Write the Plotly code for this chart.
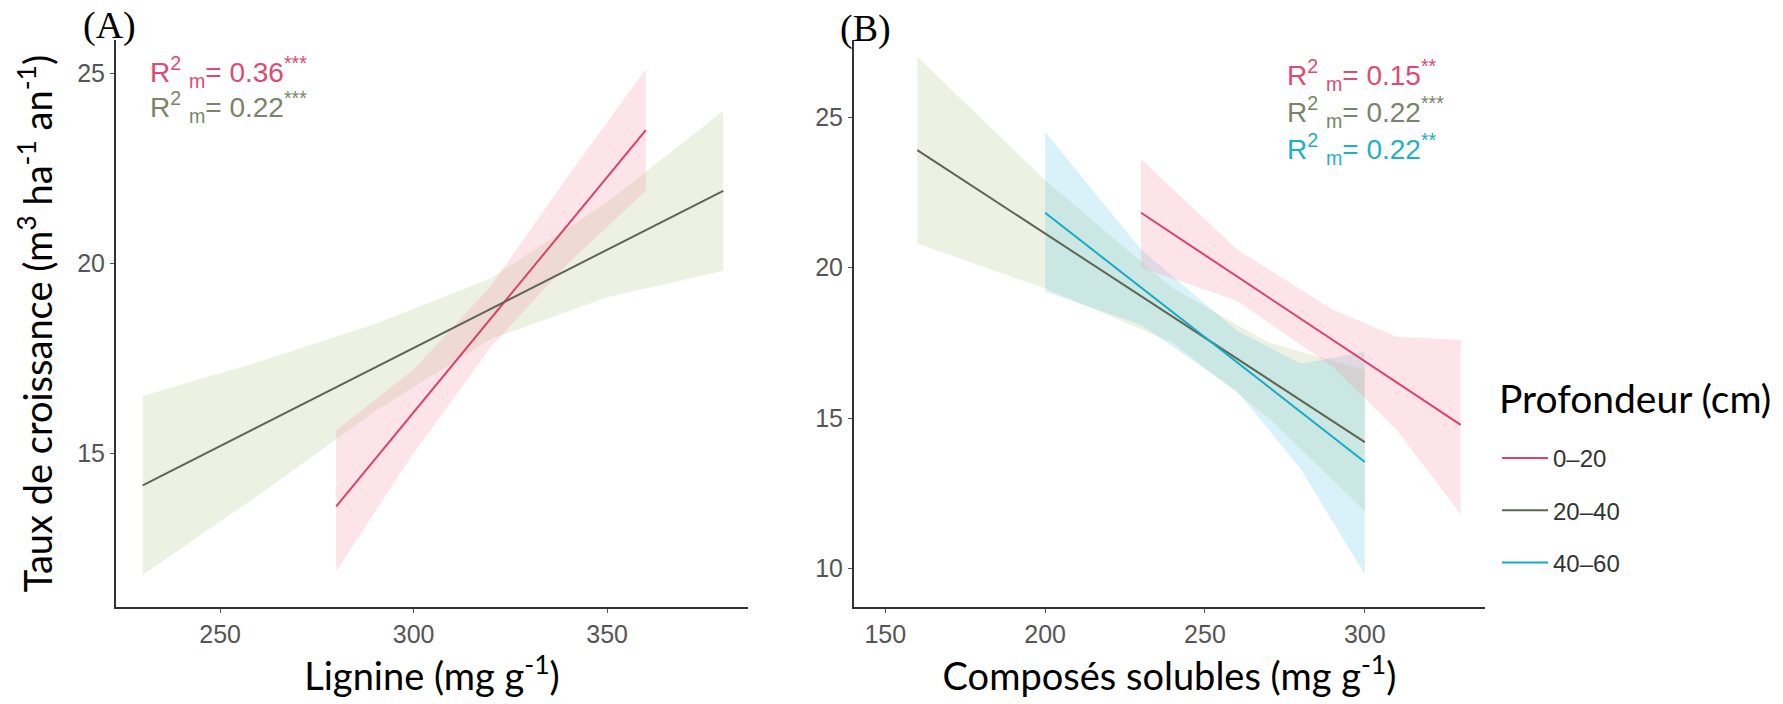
import plotly.graph_objects as go

W, H = 1783, 704

# ---------------- data ----------------
depths = ["0–20", "20–40", "40–60"]
line_colors = {"0–20": "#dc416b", "20–40": "#5d6655", "40–60": "#17aac8"}
band_colors = {"0–20": "rgba(244,150,170,0.26)", "20–40": "rgba(185,205,150,0.28)", "40–60": "rgba(120,205,230,0.28)"}
text_colors = {"0–20": "#e04a70", "20–40": "#7a8468", "40–60": "#1eb0c6"}

# Panel A : Lignine
A_lines = {
    "0–20": {"x": [280, 360], "y": [13.6, 23.5]},
    "20–40": {"x": [230, 380], "y": [14.15, 21.9]},
}
A_bands = {
    "0–20": {"x": [280, 300, 320, 340, 360],
             "lo": [11.9, 15.0, 17.8, 20.0, 21.9],
             "hi": [15.6, 17.2, 19.4, 22.3, 25.1]},
    "20–40": {"x": [230, 260, 290, 320, 350, 380],
              "lo": [11.8, 13.9, 16.1, 18.0, 19.1, 19.8],
              "hi": [16.5, 17.4, 18.4, 19.6, 21.6, 24.0]},
}
A_r2 = {"0–20": "0.36", "20–40": "0.22"}
A_stars = {"0–20": "***", "20–40": "***"}

# Panel B : Composés solubles
B_lines = {
    "0–20": {"x": [230, 330], "y": [21.82, 14.77]},
    "20–40": {"x": [160, 300], "y": [23.9, 14.2]},
    "40–60": {"x": [200, 300], "y": [21.82, 13.54]},
}
B_bands = {
    "0–20": {"x": [230, 260, 290, 310, 330],
             "lo": [20.0, 18.9, 16.7, 14.6, 11.8],
             "hi": [23.6, 20.6, 18.6, 17.7, 17.6]},
    "20–40": {"x": [160, 200, 240, 270, 300],
              "lo": [20.8, 19.3, 17.5, 15.0, 11.9],
              "hi": [27.0, 22.9, 19.3, 17.5, 16.6]},
    "40–60": {"x": [200, 230, 260, 280, 300],
              "lo": [19.2, 18.1, 15.9, 13.3, 9.8],
              "hi": [24.5, 20.6, 17.9, 16.8, 17.2]},
}
B_r2 = {"0–20": "0.15", "20–40": "0.22", "40–60": "0.22"}
B_stars = {"0–20": "**", "20–40": "***", "40–60": "**"}

A_xticks = [250, 300, 350]
A_yticks = [15, 20, 25]
B_xticks = [150, 200, 250, 300]
B_yticks = [10, 15, 20, 25]

# ---------------- figure ----------------
fig = go.Figure()

def add_band(xa, ya, band, color):
    fig.add_trace(go.Scatter(
        x=band["x"] + band["x"][::-1], y=band["hi"] + band["lo"][::-1],
        fill="toself", fillcolor=color, line=dict(width=0), mode="lines",
        hoverinfo="skip", showlegend=False, xaxis=xa, yaxis=ya))

for d in ["20–40", "0–20"]:
    add_band("x", "y", A_bands[d], band_colors[d])
for d in ["20–40", "40–60", "0–20"]:
    add_band("x2", "y2", B_bands[d], band_colors[d])

shown = set()
for d in depths:
    for xa, ya, lines in [("x", "y", A_lines), ("x2", "y2", B_lines)]:
        if d in lines:
            fig.add_trace(go.Scatter(
                x=lines[d]["x"], y=lines[d]["y"], mode="lines",
                line=dict(color=line_colors[d], width=2),
                name=d, legendgroup=d, showlegend=d not in shown,
                xaxis=xa, yaxis=ya))
            shown.add(d)

tickfont = dict(family="Liberation Sans, Arial, sans-serif", size=25, color="#555555")
titlefont = dict(family="Lato, sans-serif", size=38, color="#000000")

ydom = [1 - 607 / H, 1 - 40 / H]
axis_common = dict(showline=True, linecolor="#333333", linewidth=2, ticks="outside",
                   ticklen=4, tickcolor="#555555", tickwidth=1, showgrid=False,
                   zeroline=False, tickfont=tickfont, mirror=False)

fig.update_layout(
    width=W, height=H, margin=dict(l=0, r=0, t=0, b=0),
    paper_bgcolor="white", plot_bgcolor="white",
    xaxis=dict(domain=[116 / W, 748 / W], range=[223.1, 386.4], tickvals=A_xticks,
               title=dict(text="Lignine (mg g<sup>-1</sup>)", font=titlefont, standoff=15),
               anchor="y", **axis_common),
    yaxis=dict(domain=ydom, range=[10.95, 25.87], tickvals=A_yticks,
               title=dict(text="Taux de croissance (m<sup>3</sup> ha<sup>-1</sup> an<sup>-1</sup>)",
                          font=titlefont, standoff=13),
               anchor="x", **axis_common),
    xaxis2=dict(domain=[854 / W, 1485 / W], range=[140.2, 337.6], tickvals=B_xticks,
                title=dict(text="Composés solubles (mg g<sup>-1</sup>)", font=titlefont, standoff=15),
                anchor="y2", **axis_common),
    yaxis2=dict(domain=ydom, range=[8.72, 27.56], tickvals=B_yticks, anchor="x2", **axis_common),
    legend=dict(x=1497 / W, xanchor="left", y=1 - 436 / H, yanchor="top",
                font=dict(family="Liberation Sans, Arial, sans-serif", size=24, color="#333333"),
                tracegroupgap=18, itemwidth=46, bgcolor="rgba(0,0,0,0)"),
    showlegend=True,
)

ann = []
ann.append(dict(text="Profondeur (cm)", x=1497 / W, y=1 - 398 / H, xref="paper", yref="paper",
                showarrow=False, xanchor="left", yanchor="middle",
                font=dict(family="Lato, sans-serif", size=39, color="#000")))
ann.append(dict(text="(A)", x=109 / W, y=1 - 25 / H, xref="paper", yref="paper", showarrow=False,
                xanchor="center", yanchor="middle",
                font=dict(family="Liberation Serif, Times New Roman, serif", size=38, color="#000")))
ann.append(dict(text="(B)", x=865 / W, y=1 - 29 / H, xref="paper", yref="paper", showarrow=False,
                xanchor="center", yanchor="middle",
                font=dict(family="Liberation Serif, Times New Roman, serif", size=38, color="#000")))

def r2_text(v, s):
    return f"R<sup>2</sup> <sub>m</sub>= {v}<sup>{s}</sup>"

for i, d in enumerate(["0–20", "20–40"]):
    ann.append(dict(text=r2_text(A_r2[d], A_stars[d]), x=148 / W, y=1 - (72 + 35 * i) / H,
                    xref="paper", yref="paper", showarrow=False, xanchor="left", yanchor="middle",
                    font=dict(family="Liberation Sans, Arial, sans-serif", size=28, color=text_colors[d])))
for i, d in enumerate(["0–20", "20–40", "40–60"]):
    ann.append(dict(text=r2_text(B_r2[d], B_stars[d]), x=1285 / W, y=1 - (75 + 37 * i) / H,
                    xref="paper", yref="paper", showarrow=False, xanchor="left", yanchor="middle",
                    font=dict(family="Liberation Sans, Arial, sans-serif", size=28, color=text_colors[d])))
fig.update_layout(annotations=ann)

fig.write_html("out.html")
